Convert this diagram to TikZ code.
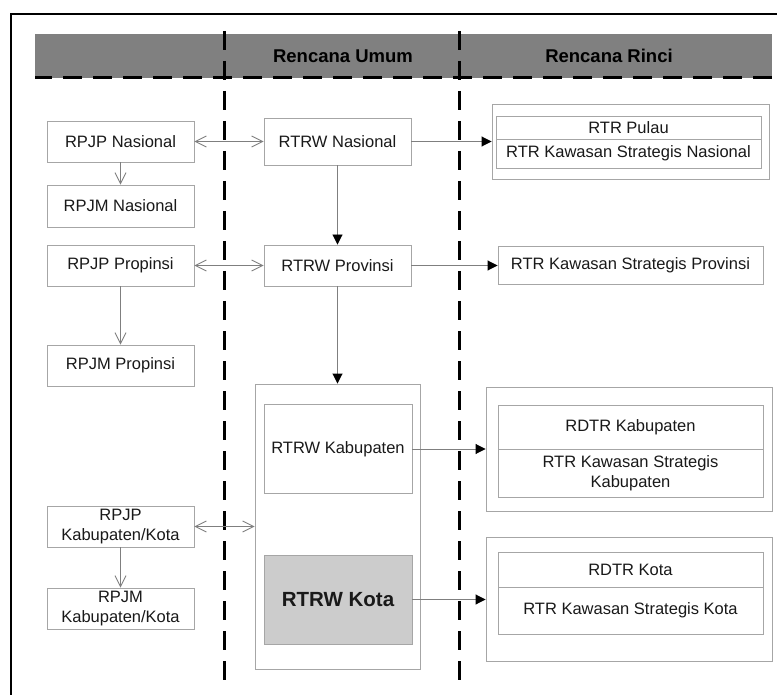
\documentclass[tikz,border=0pt]{standalone}
\usepackage{fontspec}
\setmainfont{Liberation Sans}
\usetikzlibrary{arrows.meta}
\definecolor{boxgray}{HTML}{A6A6A6}
\definecolor{linegray}{HTML}{7F7F7F}
\definecolor{headgray}{HTML}{808080}
\definecolor{kotagray}{HTML}{CCCCCC}

\begin{document}
\begin{tikzpicture}[x=1pt,y=-1pt,
  box/.style={draw=boxgray,fill=white,line width=0.9pt,inner sep=0pt,align=center,text=black!90,font=\fontsize{16.5}{20}\selectfont},
  outerbox/.style={draw=boxgray,fill=white,line width=0.9pt,inner sep=0pt},
  headtext/.style={inner sep=0pt,font=\bfseries\fontsize{18.5}{22}\selectfont},
  colline/.style={black,line width=3pt,dash pattern=on 19pt off 11pt},
  dblarrow/.style={linegray,line width=0.9pt,{Straight Barb[length=11pt,width=11pt]}-{Straight Barb[length=11pt,width=11pt]}},
  openarrow/.style={linegray,line width=0.9pt,-{Straight Barb[length=11pt,width=11pt]}},
  blkarrow/.style={linegray,line width=0.9pt,-{Triangle[black,length=10pt,width=10pt]}}]
  \useasboundingbox (0,0) rectangle (777,695);
  \clip (0,0) rectangle (777,695);
  \draw[black,line width=2pt] (11,14) rectangle (800,720);
  \fill[headgray] (35,34) rectangle (772,78);
  \draw[colline,dash phase=2pt] (35,78) -- (772,78);
  \draw[colline] (224,31) -- (224,680);
  \draw[colline] (459,31) -- (459,680);
  \node (hdumum) at (343,56) [headtext] {Rencana Umum};
  \node (hdrinci) at (609,56) [headtext] {Rencana Rinci};

  \node (rpjpnas) at (120.5,141.5) [box,minimum width=147pt,minimum height=41pt] {RPJP Nasional};
  \node (rpjmnas) at (120.5,206) [box,minimum width=147pt,minimum height=42pt] {RPJM Nasional};
  \node (rpjpprop) at (120.5,265.5) [box,minimum width=147pt,minimum height=41pt] {RPJP Propinsi};
  \node (rpjmprop) at (120.5,365.5) [box,minimum width=147pt,minimum height=41pt] {RPJM Propinsi};
  \node (rpjpkab) at (120.5,526.5) [box,minimum width=147pt,minimum height=41pt] {RPJP\\Kabupaten/Kota};
  \node (rpjmkab) at (120.5,608.5) [box,minimum width=147pt,minimum height=41pt] {RPJM\\Kabupaten/Kota};

  \node (rtrwnas) at (337.5,141.5) [box,minimum width=147pt,minimum height=47pt] {RTRW Nasional};
  \node (rtrwprop) at (337.5,265.5) [box,minimum width=147pt,minimum height=41pt] {RTRW Provinsi};
  \node (kabkota) at (337.5,526.5) [outerbox,minimum width=165pt,minimum height=285pt] {};
  \node (rtrwkab) at (338,449) [box,minimum width=148pt,minimum height=89pt] {RTRW Kabupaten};
  \node (rtrwkota) at (338,599.5) [box,fill=kotagray,minimum width=148pt,minimum height=89pt,font=\bfseries\fontsize{20.5}{24}\selectfont] {RTRW Kota};

  \node (rincinas) at (630.5,141.5) [outerbox,minimum width=277pt,minimum height=75pt] {};
  \node (rtrpulau) at (628.5,127.5) [box,minimum width=265pt,minimum height=23pt] {RTR Pulau};
  \node (rtrksn) at (628.5,153.5) [box,minimum width=265pt,minimum height=29pt] {RTR Kawasan Strategis Nasional};
  \node (rtrksp) at (630.5,265.5) [box,minimum width=265pt,minimum height=38pt] {RTR Kawasan Strategis Provinsi};
  \node (rincikab) at (629,449) [outerbox,minimum width=286pt,minimum height=124pt] {};
  \node (rdtrkab) at (630.5,427) [box,minimum width=265pt,minimum height=44pt] {RDTR Kabupaten};
  \node (rtrksk) at (630.5,473) [box,minimum width=265pt,minimum height=48pt] {RTR Kawasan Strategis\\Kabupaten};
  \node (rincikota) at (629,599.5) [outerbox,minimum width=286pt,minimum height=124pt] {};
  \node (rdtrkota) at (630.5,569.5) [box,minimum width=265pt,minimum height=35pt] {RDTR Kota};
  \node (rtrkskota) at (630.5,610.5) [box,minimum width=265pt,minimum height=47pt] {RTR Kawasan Strategis Kota};

  \draw[dblarrow] (rpjpnas) -- (rtrwnas);
  \draw[dblarrow] (rpjpprop) -- (rtrwprop);
  \draw[dblarrow] (rpjpkab) -- (kabkota);
  \draw[openarrow] (rpjpnas) -- (rpjmnas);
  \draw[openarrow] (rpjpprop) -- (rpjmprop);
  \draw[openarrow] (rpjpkab) -- (rpjmkab);
  \draw[blkarrow] (rtrwnas) -- (rtrwprop);
  \draw[blkarrow] (rtrwprop) -- (kabkota);
  \draw[blkarrow] (rtrwnas) -- (rincinas);
  \draw[blkarrow] (rtrwprop) -- (rtrksp);
  \draw[blkarrow] (rtrwkab) -- (rincikab);
  \draw[blkarrow] (rtrwkota) -- (rincikota);
\end{tikzpicture}
\end{document}
